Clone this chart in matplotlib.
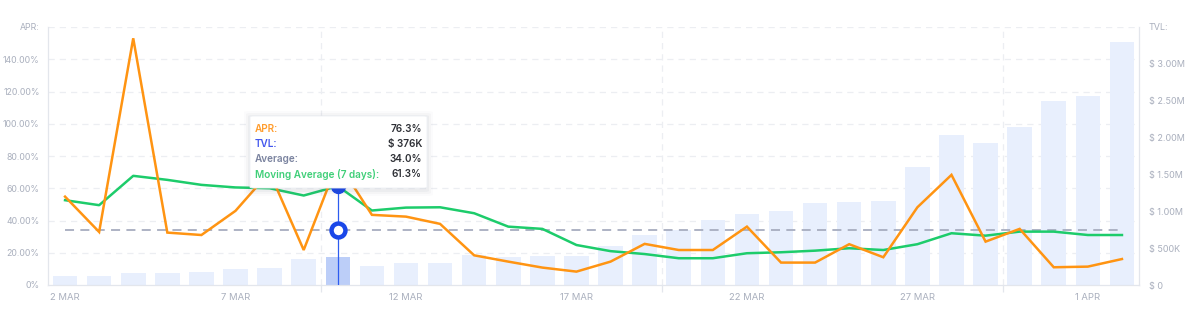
import matplotlib
matplotlib.use('Agg')
from matplotlib import pyplot as plt
from matplotlib.patches import FancyBboxPatch

plt.rcParams['font.family'] = ['Inter', 'DejaVu Sans']

days = ['2 MAR', '3 MAR', '4 MAR', '5 MAR', '6 MAR', '7 MAR', '8 MAR', '9 MAR',
        '10 MAR', '11 MAR', '12 MAR', '13 MAR', '14 MAR', '15 MAR', '16 MAR',
        '17 MAR', '18 MAR', '19 MAR', '20 MAR', '21 MAR', '22 MAR', '23 MAR',
        '24 MAR', '25 MAR', '26 MAR', '27 MAR', '28 MAR', '29 MAR', '30 MAR',
        '31 MAR', '1 APR', '2 APR']

# APR in %
apr = [54.8, 32.9, 153.0, 32.5, 31.0, 46.0, 70.0, 21.7, 76.3, 43.5, 42.4,
       37.9, 18.4, 14.5, 10.8, 8.3, 14.5, 25.5, 21.7, 21.7, 36.2, 13.9,
       13.9, 25.3, 17.2, 48.2, 68.3, 26.9, 34.8, 11.0, 11.4, 16.1]

# 7 day moving average of APR, %
moving_avg = [52.6, 49.5, 67.7, 65.2, 62.1, 60.5, 60.0, 55.5, 61.3, 46.2, 48.0,
              48.2, 44.5, 36.2, 34.8, 24.8, 21.0, 19.2, 16.6, 16.6, 19.7, 20.3,
              21.3, 22.8, 21.7, 25.3, 32.1, 30.6, 33.1, 33.1, 31.0, 31.0]

# TVL in $K
tvl = [122, 126, 158, 167, 171, 212, 234, 356, 376, 261, 302, 302, 405, 383,
       392, 392, 527, 676, 752, 887, 959, 1004, 1112, 1126, 1135, 1600, 2040,
       1923, 2149, 2500, 2568, 3300]

average = 34.0
hover = 8  # index of the hovered day (10 MAR)

apr_ticks = [0, 20, 40, 60, 80, 100, 120, 140, 160]
apr_labels = ['0%', '20.00%', '40.00%', '60.00%', '80.00%', '100.00%',
              '120.00%', '140.00%', 'APR:']
tvl_ticks = [0, 500, 1000, 1500, 2000, 2500, 3000, 3500]
tvl_labels = ['$ 0', '$ 500K', '$ 1.00M', '$ 1.50M', '$ 2.00M', '$ 2.50M',
              '$ 3.00M', 'TVL:']

W, H = 1189, 310
fig = plt.figure(figsize=(W / 100, H / 100), dpi=100)

ax = fig.add_axes([48 / W, 1 - 285 / H, (1139 - 48) / W, (285 - 27) / H])
ax2 = ax.twinx()
ax.set_zorder(2)
ax.patch.set_visible(False)

x = list(range(len(days)))
label_col = '#a9afbd'
grid_col = '#eceef2'
spine_col = '#e3e6ec'

# bars (TVL)
bar_cols = ['#bcceF8' if i == hover else '#e8effd' for i in x]
ax2.bar(x, tvl, width=0.72, color=bar_cols, zorder=2)
ax2.set_ylim(0, 3500)
ax2.set_yticks(tvl_ticks)
ax2.set_yticklabels(tvl_labels)

# horizontal grid, following the APR ticks, drawn behind bars
for t in apr_ticks[1:]:
    ax2.axhline(t / 160 * 3500, color=grid_col, lw=0.9, ls=(0, (5, 4)), zorder=1)
for b in [7.5, 17.5, 27.5]:
    ax2.axvline(b, color=grid_col, lw=0.9, ls=(0, (5, 4)), zorder=1)

# lines (APR)
ax.plot([0, len(days) - 1], [average, average], color='#a7adbf', lw=1.3,
        ls=(0, (5, 3.5)), zorder=3)
ax.plot(x, moving_avg, color='#1dcc6b', lw=1.8, zorder=4, solid_joinstyle='round')
ax.plot(x, apr, color='#ff9412', lw=1.8, zorder=5, solid_joinstyle='miter')

# hover crosshair and markers
ax.plot([hover, hover], [0, moving_avg[hover]], color='#2d5cf0', lw=0.9, zorder=6)
ax.plot(hover, moving_avg[hover], 'o', ms=10, color='#1a47e8', zorder=7)
ax.plot(hover, average, 'o', ms=10, mfc='white', mec='#1a47e8', mew=3.2, zorder=7)

ax.set_ylim(0, 160)
ax.set_xlim(-0.5, len(days) - 0.5)
ax.set_yticks(apr_ticks)
ax.set_yticklabels(apr_labels)
ax.set_xticks(x[::5])
ax.set_xticklabels(days[::5])
ax.set_xticks([7.5, 17.5, 27.5], minor=True)

for a in (ax, ax2):
    for s in a.spines.values():
        s.set_color(spine_col)
    a.spines['top'].set_visible(False)
ax.tick_params(axis='y', length=0, pad=6, labelsize=6.3, labelcolor=label_col)
ax2.tick_params(axis='y', length=0, pad=7, labelsize=6.5, labelcolor=label_col)
ax.tick_params(axis='x', which='major', length=0, pad=6, labelsize=6.8,
               labelcolor=label_col)
ax.tick_params(axis='x', which='minor', length=5, color=spine_col, width=0.9)
ax2.tick_params(axis='x', which='both', length=0)

# tooltip
def fx(px):
    return px / W


def fy(py):
    return 1 - py / H


for k, a in enumerate([0.05, 0.035, 0.02]):
    g = 2 + 2 * k
    fig.patches.append(FancyBboxPatch(
        (fx(250 - g), fy(189 + g + 1)), (177 + 2 * g) / W, (73 + 2 * g) / H,
        boxstyle='round,pad=0,rounding_size=0.004', transform=fig.transFigure,
        facecolor='#555a70', edgecolor='none', alpha=a, zorder=10))
fig.patches.append(FancyBboxPatch(
    (fx(250), fy(188)), 177 / W, 72 / H,
    boxstyle='round,pad=0,rounding_size=0.003', transform=fig.transFigure,
    facecolor='white', edgecolor='#eef0f4', lw=0.6, zorder=11))

tip_rows = [('APR:', '#ff9d2e', '76.3%', 129),
            ('TVL:', '#4257ee', '$ 376K', 144),
            ('Average:', '#7a839f', '34.0%', 159.5),
            ('Moving Average (7 days):', '#3fcf78', '61.3%', 174)]
for name, col, val, py in tip_rows:
    fig.text(fx(255), fy(py), name, color=col, fontsize=7.2, fontweight='semibold',
             va='center', ha='left', zorder=12)
    fig.text(fx(422), fy(py), val, color='#2e3036', fontsize=7.2,
             fontweight='semibold', va='center', ha='right', zorder=12)

fig.savefig('out.png', dpi=100)
